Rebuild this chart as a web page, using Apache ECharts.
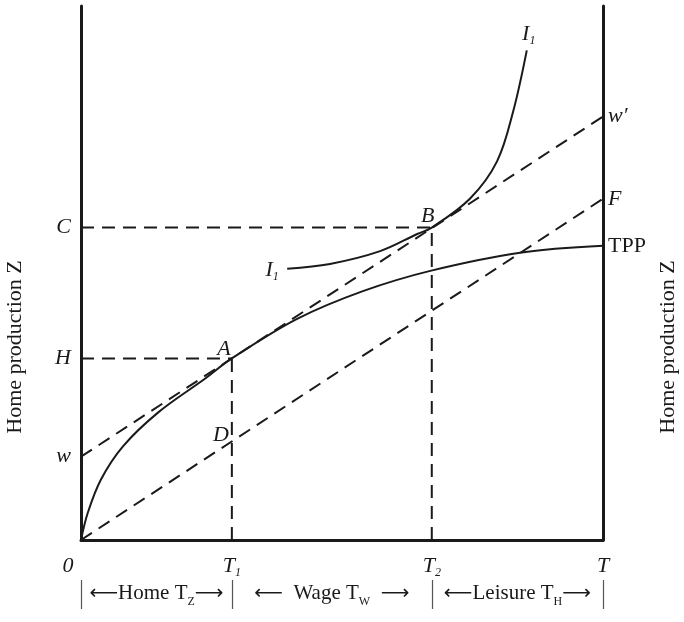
<!DOCTYPE html>
<html><head><meta charset="utf-8">
<script src="https://cdn.jsdelivr.net/npm/echarts@6/dist/echarts.min.js"></script>
<style>html,body{margin:0;padding:0;background:#fff}#c{width:684px;height:622px}</style>
</head><body><div id="c"></div>
<script>
// ---- data ----
const xTickValues = [0, 28.9, 67.2, 100];
const xTickNames = ['0', 'T1', 'T2', 'T'];
const leftTickValues = [15.6, 34.0, 58.5];
const leftTickNames = ['w', 'H', 'C'];
const rightTickValues = [79.3, 63.9, 55.1];
const rightTickNames = ["w\u2032", 'F', 'TPP'];
const segmentNames = ['Home|Z', 'Wage|W', 'Leisure|H'];
const tppX = [0, 1.3, 3.8, 8.0, 14.8, 23.6, 28.9, 41.4, 54.0, 66.9, 84.1, 100];
const tppY = [0, 5.1, 11.3, 17.5, 23.9, 30.1, 34.0, 41.4, 46.6, 50.4, 53.8, 55.1];
const i1X = [39.5, 47.7, 57.3, 64.4, 67.2, 74.5, 79.7, 82.8, 85.4];
const i1Y = [50.8, 51.7, 54.1, 57.3, 58.5, 63.9, 70.9, 80.3, 91.7];
const pointA = [28.9, 34.0];
const pointB = [67.2, 58.5];
const pointD = [28.9, 18.5];
const wageLine = [[0, 15.6], [100, 79.3]];
const fLine = [[0, 0], [100, 63.9]];

// ---- chart ----
const SERIF = 'Liberation Serif';
const INK = '#1a1a1a';
const FS = 22;
const chart = echarts.init(document.getElementById('c'), null, {renderer: 'canvas'});
const zip = (xs, ys) => xs.map((x, i) => [x, ys[i]]);
const dash = [13, 8];

function subRich(size) {
  return {
    m: {fontFamily: SERIF, fontStyle: 'italic', fontSize: size, color: INK, verticalAlign: 'top'},
    z: {fontFamily: SERIF, fontStyle: 'italic', fontSize: size, color: INK, verticalAlign: 'top', padding: [0, 26, 0, 0]},
    s: {fontFamily: SERIF, fontStyle: 'italic', fontSize: Math.round(size * 0.55), color: INK, verticalAlign: 'top', padding: [Math.round(size * 0.55), 0, 0, 0]},
    r: {fontFamily: SERIF, fontSize: size, color: INK, verticalAlign: 'top'},
    a: {fontFamily: 'DejaVu Sans', fontSize: size - 1, color: INK, verticalAlign: 'top', padding: [1, 0, 0, 0]},
    ss: {fontFamily: SERIF, fontSize: Math.round(size * 0.55), color: INK, verticalAlign: 'top', padding: [Math.round(size * 0.6), 0, 0, 0]}
  };
}
function subLabel(name) {
  if (name === '0') return '{z|0}';
  if (name.length === 2 && /\d/.test(name[1])) return '{m|' + name[0] + '}{s|' + name[1] + '}';
  return '{m|' + name + '}';
}
function findName(vals, names, v) {
  for (let i = 0; i < vals.length; i++) if (Math.abs(vals[i] - v) < 1e-6) return names[i];
  return '';
}
const mid = [];
for (let i = 0; i < xTickValues.length - 1; i++) mid.push((xTickValues[i] + xTickValues[i + 1]) / 2);

function lineSeries(data, opts) {
  return Object.assign({
    type: 'line', data: data, symbol: 'none', silent: true, animation: false,
    lineStyle: {color: INK, width: 2}
  }, opts);
}
function textPoint(pt, text, offset) {
  return {
    type: 'scatter', data: [pt], symbolSize: 0, silent: true, animation: false,
    itemStyle: {opacity: 1},
    label: {show: true, position: 'inside', offset: offset, formatter: text, color: INK,
      textBorderWidth: 0, opacity: 1, rich: subRich(FS)}
  };
}

const option = {
  backgroundColor: '#fff',
  animation: false,
  grid: {left: 81, right: 81, top: 6, bottom: 82, containLabel: false},
  xAxis: [{
    type: 'value', min: 0, max: 100, splitLine: {show: false},
    axisLine: {show: true, onZero: false, lineStyle: {color: INK, width: 3}},
    axisTick: {show: false},
    axisLabel: {show: true, customValues: xTickValues, margin: 15, rich: subRich(FS),
      formatter: v => subLabel(findName(xTickValues, xTickNames, v))}
  }, {
    type: 'value', min: 0, max: 100, position: 'bottom', offset: 40, splitLine: {show: false},
    axisLine: {show: false},
    axisTick: {show: false},
    axisLabel: {show: true, customValues: mid, margin: 3, hideOverlap: false, rich: subRich(21),
      formatter: v => {
        const n = findName(mid, segmentNames, v).split('|');
        const gap = n[0] === 'Wage' ? '  ' : '';
        return '{a|\u27F5}{r|' + gap + n[0] + ' T}{ss|' + n[1] + '}{r|' + gap + '}{a|\u27F6}';
      }}
  }],
  yAxis: [{
    type: 'value', min: 0, max: 100, position: 'left', splitLine: {show: false},
    axisLine: {show: true, onZero: false, lineStyle: {color: INK, width: 3}},
    axisTick: {show: false},
    axisLabel: {show: true, customValues: leftTickValues, margin: 10, rich: subRich(FS),
      formatter: v => subLabel(findName(leftTickValues, leftTickNames, v))}
  }, {
    type: 'value', min: 0, max: 100, position: 'right', splitLine: {show: false},
    axisLine: {show: true, onZero: false, lineStyle: {color: INK, width: 3}},
    axisTick: {show: false},
    axisLabel: {show: true, customValues: rightTickValues, margin: 5, rich: subRich(FS),
      formatter: v => {
        const n = findName(rightTickValues, rightTickNames, v);
        return n === 'TPP' ? '{r|TPP}' : '{m|' + n + '}';
      }}
  }],
  series: [
    lineSeries(zip(tppX, tppY), {smooth: 0.35, lineStyle: {color: INK, width: 2}}),
    lineSeries(zip(i1X, i1Y), {smooth: 0.35, lineStyle: {color: INK, width: 2}}),
    lineSeries(wageLine, {lineStyle: {color: INK, width: 2, type: dash}}),
    lineSeries(fLine, {lineStyle: {color: INK, width: 2, type: dash}}),
    lineSeries([[0, pointA[1]], pointA], {lineStyle: {color: INK, width: 2, type: dash}}),
    lineSeries([[pointA[0], 0], pointA], {lineStyle: {color: INK, width: 2, type: dash}}),
    lineSeries([[0, pointB[1]], pointB], {lineStyle: {color: INK, width: 2, type: dash}}),
    lineSeries([[pointB[0], 0], pointB], {lineStyle: {color: INK, width: 2, type: dash}}),
    textPoint(pointA, '{m|A}', [-8, -9]),
    textPoint(pointB, '{m|B}', [-4, -11]),
    textPoint(pointD, '{m|D}', [-11, -6]),
    textPoint([i1X[i1X.length - 1], i1Y[i1Y.length - 1]], '{m|I}{s|1}', [2, -15]),
    textPoint([i1X[0], i1Y[0]], '{m|I}{s|1}', [-15, 2])
  ]
};
chart.setOption(option);

// separators under the axis at the tick positions, and the rotated axis titles
const gfx = [];
xTickValues.forEach(v => {
  const px = Math.round(chart.convertToPixel({xAxisIndex: 0}, v)) + 0.5;
  gfx.push({type: 'line', shape: {x1: px, y1: 580, x2: px, y2: 609}, style: {stroke: '#555', lineWidth: 1.2}, silent: true});
});
['left', 'right'].forEach((side, i) => {
  gfx.push({type: 'text', x: side === 'left' ? 15 : 668, y: 347, rotation: Math.PI / 2, silent: true,
    style: {text: 'Home production Z', font: '22px "' + SERIF + '"', fill: INK, align: 'center', verticalAlign: 'middle'}});
});
chart.setOption({graphic: gfx});
</script>
</body></html>
